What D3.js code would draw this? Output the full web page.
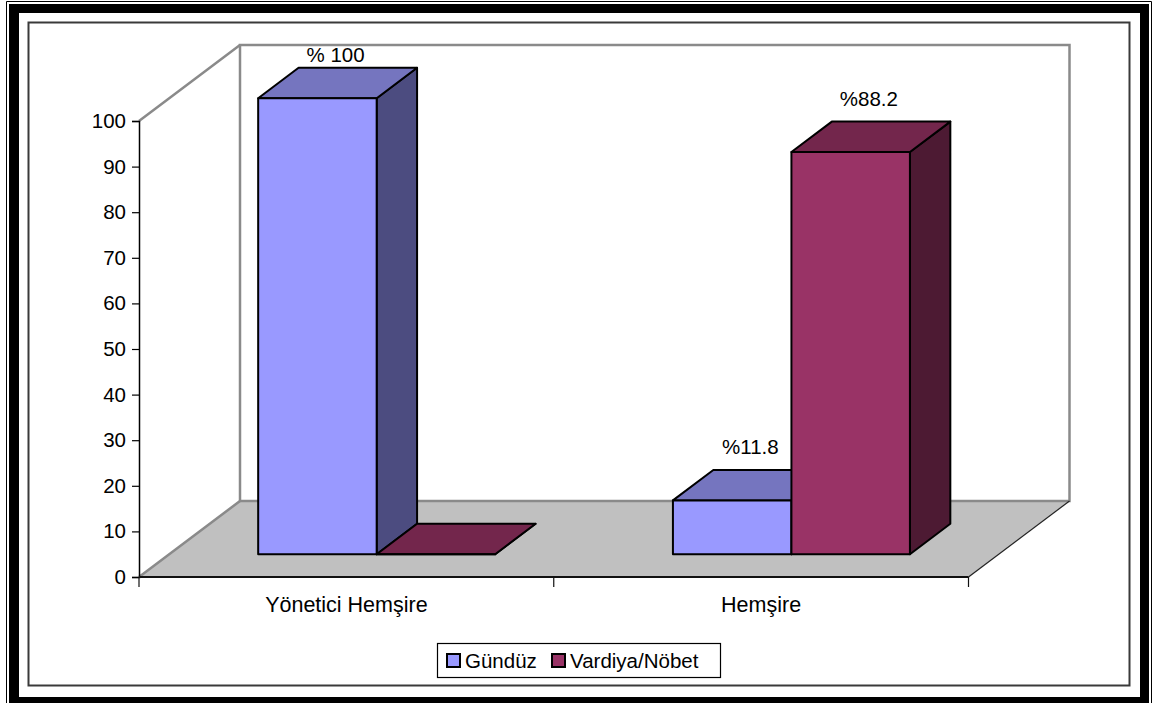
<!DOCTYPE html>
<html>
<head>
<meta charset="utf-8">
<script src="https://cdn.jsdelivr.net/npm/d3@7/dist/d3.min.js"></script>
<style>
  html, body { margin: 0; padding: 0; background: #fff; }
  svg { display: block; }
  text { font-family: "Liberation Sans", Arial, sans-serif; fill: #000; }
</style>
</head>
<body>
<svg id="chart" width="1165" height="703"></svg>
<script>
// Chart data
const categories = ["Yönetici Hemşire", "Hemşire"];
const seriesNames = ["Gündüz", "Vardiya/Nöbet"];
const gunduzValues = [100, 11.8];
const vardiyaValues = [0, 88.2];
const gunduzLabels = ["% 100", "%11.8"];
const vardiyaLabels = ["", "%88.2"];
const yTicks = [0, 10, 20, 30, 40, 50, 60, 70, 80, 90, 100];

const seriesValues = [gunduzValues, vardiyaValues];
const seriesLabels = [gunduzLabels, vardiyaLabels];
const palette = [
  { front: "#9999FF", top: "#7575BF", side: "#4C4C80" },
  { front: "#993366", top: "#73264C", side: "#4D1A33" }
];

const svg = d3.select("#chart");
const FONT = 20.5;

// ---- page frame (thin outer rule + thick inner rule) ----
svg.append("path")
  .attr("d", "M9,4H1149V706H9Z M19,13V697H1140V13Z")
  .attr("fill", "#000").attr("fill-rule", "evenodd");
svg.append("path")
  .attr("d", "M6.5,1.5H1151.5V710 M6.5,1.5V710")
  .attr("fill", "none").attr("stroke", "#000").attr("stroke-width", 1);

// chart area border
svg.append("rect")
  .attr("x", 28.5).attr("y", 22.5).attr("width", 1101).attr("height", 663)
  .attr("fill", "#fff").attr("stroke", "#3a3a3a").attr("stroke-width", 2);

// ---- 3D plot geometry ----
const plotLeft = 139, plotRight = 968.5, floorY = 577;
const depth = { x: 101, y: -76 };          // full depth of the floor
const barDepthStart = 0.30, barDepthEnd = 0.70;

const x0 = d3.scaleBand().domain(categories).range([plotLeft, plotRight]).padding(0);
const x1 = d3.scaleBand().domain(seriesNames).range([0, x0.bandwidth()])
  .paddingInner(0).paddingOuter(0.75);
const y = d3.scaleLinear().domain([0, 100]).range([floorY, floorY - 456]);
const h = v => floorY - y(v);

const P = (px, py) => px + "," + py;
const poly = pts => pts.map(p => P(p[0], p[1])).join(" ");

const wallColor = "#8a8a8a";
const gWalls = svg.append("g");

// floor
gWalls.append("polygon")
  .attr("points", poly([
    [plotLeft, floorY], [plotLeft + depth.x, floorY + depth.y],
    [plotRight + depth.x, floorY + depth.y], [plotRight, floorY]
  ]))
  .attr("fill", "#C0C0C0").attr("stroke", "none");

// back wall
gWalls.append("rect")
  .attr("x", plotLeft + depth.x).attr("y", y(100) + depth.y)
  .attr("width", plotRight - plotLeft).attr("height", h(100))
  .attr("fill", "#fff").attr("stroke", wallColor).attr("stroke-width", 2.5);

// side wall edges
gWalls.append("path")
  .attr("d", "M" + P(plotLeft, y(100)) + "L" + P(plotLeft + depth.x, y(100) + depth.y) +
             "M" + P(plotLeft, floorY) + "L" + P(plotLeft + depth.x, floorY + depth.y))
  .attr("fill", "none").attr("stroke", wallColor).attr("stroke-width", 2.5);

// right floor edge
gWalls.append("line")
  .attr("x1", plotRight).attr("y1", floorY)
  .attr("x2", plotRight + depth.x).attr("y2", floorY + depth.y)
  .attr("stroke", "#222").attr("stroke-width", 1.2);

// ---- bars ----
const fx = depth.x * barDepthStart, fy = depth.y * barDepthStart;
const bx = depth.x * (barDepthEnd - barDepthStart), by = depth.y * (barDepthEnd - barDepthStart);

const gBars = svg.append("g");
const labelData = [];
categories.forEach((cat, ci) => {
  seriesNames.forEach((s, si) => {
    const v = seriesValues[si][ci];
    const xl = x0(cat) + x1(s) + fx;
    const w = x1.bandwidth();
    const yb = floorY + fy;
    const yt = yb - h(v);
    const c = palette[si];
    const g = gBars.append("g")
      .attr("stroke", "#000").attr("stroke-width", 2).attr("stroke-linejoin", "round");
    g.append("polygon").attr("fill", c.side)
      .attr("points", poly([[xl + w, yb], [xl + w + bx, yb + by], [xl + w + bx, yt + by], [xl + w, yt]]));
    g.append("polygon").attr("fill", c.top)
      .attr("points", poly([[xl, yt], [xl + w, yt], [xl + w + bx, yt + by], [xl + bx, yt + by]]));
    g.append("polygon").attr("fill", c.front)
      .attr("points", poly([[xl, yb], [xl + w, yb], [xl + w, yt], [xl, yt]]));
    const lbl = seriesLabels[si][ci];
    if (lbl) {
      labelData.push({ text: lbl, cx: xl + (w + bx) / 2 - 2, base: Math.max(yt + by - 16, 62) });
    }
  });
});

// value labels
svg.append("g").selectAll("text").data(labelData).join("text")
  .attr("x", d => d.cx).attr("y", d => d.base)
  .attr("text-anchor", "middle").attr("font-size", FONT)
  .text(d => d.text);

// ---- axes ----
const yAxis = d3.axisLeft(y).tickValues(yTicks).tickSize(7).tickPadding(6).tickFormat(d3.format("d"));
const gy = svg.append("g").attr("transform", "translate(" + plotLeft + ",0)").call(yAxis);
gy.select(".domain").attr("stroke", "#000").attr("stroke-width", 1.5);
gy.selectAll(".tick line").attr("stroke", "#000").attr("stroke-width", 1.2);
gy.selectAll(".tick text").attr("font-size", FONT).attr("font-family", "Liberation Sans, Arial, sans-serif").attr("fill", "#000");

// category axis
const gx = svg.append("g");
gx.append("line")
  .attr("x1", plotLeft).attr("x2", plotRight).attr("y1", floorY).attr("y2", floorY)
  .attr("stroke", "#111").attr("stroke-width", 2);
const boundaries = categories.map(c => x0(c)).concat([plotRight]);
gx.selectAll("line.tk").data(boundaries).join("line").attr("class", "tk")
  .attr("x1", d => d).attr("x2", d => d).attr("y1", floorY).attr("y2", floorY + 10)
  .attr("stroke", "#111").attr("stroke-width", 1.2);
gx.selectAll("text").data(categories).join("text")
  .attr("x", d => x0(d) + x0.bandwidth() / 2).attr("y", 612)
  .attr("text-anchor", "middle").attr("font-size", 21.5)
  .text(d => d);

// ---- legend ----
const legend = svg.append("g");
legend.append("rect")
  .attr("x", 437.5).attr("y", 643.5).attr("width", 283).attr("height", 34)
  .attr("fill", "#fff").attr("stroke", "#000").attr("stroke-width", 1.2);
const legendX = [447, 552];
seriesNames.forEach((s, i) => {
  legend.append("rect")
    .attr("x", legendX[i]).attr("y", 654).attr("width", 13).attr("height", 13)
    .attr("fill", palette[i].front).attr("stroke", "#000").attr("stroke-width", 2);
  legend.append("text")
    .attr("x", legendX[i] + 18).attr("y", 667.5)
    .attr("font-size", FONT).text(s);
});
</script>
</body>
</html>
